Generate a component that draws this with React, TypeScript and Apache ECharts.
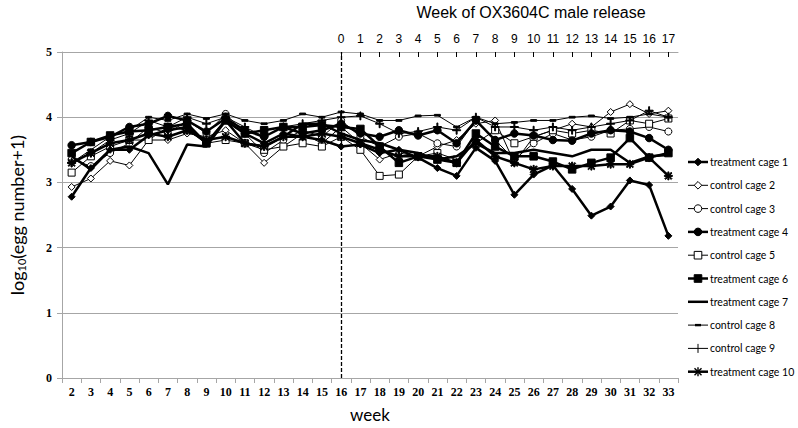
import React, { useEffect, useRef } from "react";
import * as echarts from "echarts";

const weeks = ["2","3","4","5","6","7","8","9","10","11","12","13","14","15","16","17","18","19","20","21","22","23","24","25","26","27","28","29","30","31","32","33"];
const releaseWeekLabels = ["","","","","","","","","","","","","","","0","1","2","3","4","5","6","7","8","9","10","11","12","13","14","15","16","17"];
const yTicks = [0, 1, 2, 3, 4, 5];

const treatmentCage1 = [2.78,3.22,3.5,3.5,3.72,3.8,3.85,3.6,3.95,3.75,3.6,3.75,3.7,3.65,3.55,3.58,3.45,3.5,3.38,3.22,3.1,3.53,3.33,2.81,3.12,3.26,2.9,2.49,2.63,3.03,2.96,2.18];
const controlCage2 = [2.93,3.06,3.33,3.26,3.65,3.65,3.75,3.7,3.8,3.6,3.3,3.55,3.75,3.6,3.85,3.6,3.35,3.45,3.4,3.55,3.65,3.9,3.95,3.3,3.7,3.8,3.9,3.85,4.08,4.2,4.05,4.1];
const controlCage3 = [3.35,3.25,3.45,3.6,3.85,3.75,3.95,3.75,4.05,3.75,3.45,3.65,3.8,3.7,3.95,3.7,3.55,3.7,3.75,3.6,3.55,3.95,3.65,3.35,3.6,3.75,3.65,3.7,3.8,3.82,3.85,3.78];
const treatmentCage4 = [3.57,3.62,3.7,3.85,3.9,4.02,3.95,3.78,3.98,3.8,3.7,3.85,3.75,3.8,3.9,3.75,3.7,3.8,3.72,3.8,3.6,3.95,3.65,3.75,3.72,3.65,3.64,3.75,3.8,3.78,3.68,3.5];
const controlCage5 = [3.15,3.4,3.55,3.65,3.65,3.85,3.8,3.6,3.65,3.6,3.5,3.55,3.6,3.55,3.7,3.5,3.1,3.12,3.4,3.45,3.35,3.6,3.8,3.6,3.7,3.8,3.75,3.8,3.75,3.95,3.9,3.98];
const treatmentCage6 = [3.45,3.62,3.72,3.78,3.8,3.85,3.9,3.6,3.95,3.75,3.8,3.85,3.85,3.88,3.85,3.82,3.55,3.3,3.4,3.35,3.3,3.75,3.55,3.4,3.4,3.32,3.2,3.3,3.38,3.68,3.38,3.45];
const treatmentCage7 = [3.4,3.2,3.5,3.55,3.45,2.97,3.58,3.55,3.95,3.6,3.55,3.7,3.9,3.9,3.75,3.65,3.6,3.5,3.45,3.35,3.4,3.6,3.45,3.45,3.5,3.45,3.4,3.5,3.5,3.3,3.4,3.42];
const controlCage8 = [3.3,3.5,3.7,3.8,4.0,3.95,4.05,3.98,4.05,3.95,3.9,3.95,4.05,4.0,4.08,4.05,3.95,3.95,4.02,4.03,3.85,4.0,3.9,3.92,3.95,3.95,4.0,4.02,3.98,4.0,4.05,4.0];
const controlCage9 = [3.3,3.45,3.65,3.75,3.95,3.85,4.0,3.9,4.0,3.85,3.7,3.85,3.9,3.95,4.0,4.02,3.9,3.75,3.78,3.85,3.8,4.0,3.85,3.85,3.8,3.85,3.8,3.85,3.9,3.95,4.1,4.0];
const treatmentCage10 = [3.3,3.45,3.6,3.65,3.75,3.7,3.8,3.65,3.7,3.6,3.55,3.7,3.7,3.75,3.7,3.6,3.5,3.4,3.4,3.4,3.3,3.65,3.4,3.3,3.2,3.25,3.25,3.25,3.28,3.28,3.38,3.1];

const PLUS = "path://M4.4,0H5.6V4.4H10V5.6H5.6V10H4.4V5.6H0V4.4H4.4Z";
const STAR = "path://M4.3,0H5.7V10H4.3Z M0.5,1.5L1.5,0.5L9.5,8.5L8.5,9.5Z M8.5,0.5L9.5,1.5L1.5,9.5L0.5,8.5Z M0,4.3H10V5.7H0Z";
const DASH = "path://M0,0H7V2H0Z";

type Kind = "diamond" | "circle" | "rect" | "none" | "dash" | "plus" | "star";
const symbolOf: Record<Kind, string> = { diamond: "diamond", circle: "circle", rect: "rect", none: "none", dash: DASH, plus: PLUS, star: STAR };

export default function App() {
  const ref = useRef<HTMLDivElement>(null);
  useEffect(() => {
    const chart = echarts.init(ref.current!, null, { renderer: "svg" });
    const defs: { name: string; data: number[]; kind: Kind; size: number; filled: boolean; width: number }[] = [
      { name: "treatment cage 1", data: treatmentCage1, kind: "diamond", size: 7, filled: true, width: 2.5 },
      { name: "control cage 2", data: controlCage2, kind: "diamond", size: 7, filled: false, width: 1 },
      { name: "control cage 3", data: controlCage3, kind: "circle", size: 7, filled: false, width: 1 },
      { name: "treatment cage 4", data: treatmentCage4, kind: "circle", size: 7.5, filled: true, width: 2.5 },
      { name: "control cage 5", data: controlCage5, kind: "rect", size: 7, filled: false, width: 1 },
      { name: "treatment cage 6", data: treatmentCage6, kind: "rect", size: 7.5, filled: true, width: 2.5 },
      { name: "treatment cage 7", data: treatmentCage7, kind: "none", size: 0, filled: true, width: 2.5 },
      { name: "control cage 8", data: controlCage8, kind: "dash", size: 6, filled: true, width: 1 },
      { name: "control cage 9", data: controlCage9, kind: "plus", size: 8, filled: true, width: 1 },
      { name: "treatment cage 10", data: treatmentCage10, kind: "star", size: 8, filled: true, width: 2.5 },
    ];
    const series: any[] = defs.map((d) => ({
      type: "line",
      name: d.name,
      data: d.data,
      symbol: symbolOf[d.kind],
      symbolSize: d.size,
      symbolKeepAspect: true,
      showSymbol: d.kind !== "none",
      lineStyle: { color: "#000", width: d.width },
      itemStyle: { color: d.filled ? "#000" : "#fff", borderColor: "#000", borderWidth: 1 },
      emphasis: { disabled: true },
      z: d.filled ? 3 : 2,
    }));
    series[0].markLine = {
      silent: true,
      symbol: ["none", "none"],
      label: { show: false },
      lineStyle: { type: [4, 2], color: "#000", width: 1.3 },
      data: [{ xAxis: "16" }],
    };

    // legend drawn as graphic elements
    const legendEls: any[] = [];
    defs.forEach((d, i) => {
      const cy = 162 + i * 23.3;
      const cx = 698;
      legendEls.push({ type: "line", shape: { x1: 688, y1: cy, x2: 708, y2: cy }, style: { stroke: "#000", lineWidth: d.width } });
      const fill = d.filled ? "#000" : "#fff";
      const r = 3.8;
      if (d.kind === "diamond") {
        legendEls.push({ type: "polygon", shape: { points: [[cx, cy - r], [cx + r, cy], [cx, cy + r], [cx - r, cy]] }, style: { fill, stroke: "#000", lineWidth: 1 } });
      } else if (d.kind === "circle") {
        legendEls.push({ type: "circle", shape: { cx, cy, r }, style: { fill, stroke: "#000", lineWidth: 1 } });
      } else if (d.kind === "rect") {
        legendEls.push({ type: "rect", shape: { x: cx - r, y: cy - r, width: 2 * r, height: 2 * r }, style: { fill, stroke: "#000", lineWidth: 1 } });
      } else if (d.kind === "dash") {
        legendEls.push({ type: "rect", shape: { x: cx - 3, y: cy - 1.2, width: 6, height: 2.4 }, style: { fill: "#000" } });
      } else if (d.kind === "plus") {
        legendEls.push({ type: "line", shape: { x1: cx, y1: cy - 4.5, x2: cx, y2: cy + 4.5 }, style: { stroke: "#000", lineWidth: 1 } });
      } else if (d.kind === "star") {
        legendEls.push({ type: "line", shape: { x1: cx, y1: cy - 4.5, x2: cx, y2: cy + 4.5 }, style: { stroke: "#000", lineWidth: 1.4 } });
        legendEls.push({ type: "line", shape: { x1: cx - 3.5, y1: cy - 3.5, x2: cx + 3.5, y2: cy + 3.5 }, style: { stroke: "#000", lineWidth: 1.4 } });
        legendEls.push({ type: "line", shape: { x1: cx + 3.5, y1: cy - 3.5, x2: cx - 3.5, y2: cy + 3.5 }, style: { stroke: "#000", lineWidth: 1.4 } });
      }
      legendEls.push({
        type: "text",
        x: 710,
        y: cy,
        style: { text: d.name, textVerticalAlign: "middle", textAlign: "left", font: "10.5px Lato", fill: "#000" },
      });
    });

    const option: any = {
      animation: false,
      grid: { left: 51, right: 120, top: 52, bottom: 50 },
      graphic: [
        {
          type: "text",
          x: 531,
          y: 12,
          style: {
            text: "Week of OX3604C male release",
            textAlign: "center",
            textVerticalAlign: "middle",
            font: "16px 'Liberation Sans', Arial, sans-serif",
            fill: "#000",
          },
        },
        ...legendEls,
      ],
      xAxis: [
        {
          type: "category",
          data: weeks,
          position: "bottom",
          boundaryGap: true,
          name: "week",
          nameLocation: "middle",
          nameGap: 28,
          nameTextStyle: { fontSize: 17, fontFamily: "Lato", color: "#000" },
          axisLine: { lineStyle: { color: "#a6a6a6", width: 1 } },
          axisTick: { show: true, length: 5, lineStyle: { color: "#a6a6a6" } },
          axisLabel: { color: "#000", fontWeight: "bold", fontFamily: "'Liberation Serif', serif", fontSize: 12, margin: 8, interval: 0 },
          splitLine: { show: false },
        },
        {
          type: "category",
          data: releaseWeekLabels,
          position: "top",
          boundaryGap: true,
          axisLine: { show: true, lineStyle: { color: "#a6a6a6" } },
          axisTick: {
            show: true,
            alignWithLabel: true,
            inside: true,
            length: 5,
            interval: (i: number) => releaseWeekLabels[i] !== "",
            lineStyle: { color: "#000" },
          },
          axisLabel: {
            color: "#000",
            fontFamily: "'Liberation Sans', Arial, sans-serif",
            fontSize: 12,
            margin: 7,
            interval: (i: number) => releaseWeekLabels[i] !== "",
          },
          splitLine: { show: false },
        },
      ],
      yAxis: {
        type: "value",
        min: yTicks[0],
        max: yTicks[yTicks.length - 1],
        interval: 1,
        name: "log{sub|10}(egg number+1)",
        nameLocation: "middle",
        nameRotate: 90,
        nameGap: 35,
        nameTextStyle: {
          fontSize: 18,
          fontFamily: "Lato",
          color: "#000",
          rich: { sub: { fontSize: 11, fontFamily: "Lato", color: "#000", verticalAlign: "bottom", padding: [9, 0, 0, 0] } },
        },
        axisLine: { show: true, lineStyle: { color: "#a6a6a6" } },
        axisTick: { show: true, length: 5, lineStyle: { color: "#a6a6a6" } },
        axisLabel: { color: "#000", fontWeight: "bold", fontFamily: "'Liberation Serif', serif", fontSize: 12, margin: 10 },
        splitLine: { show: true, lineStyle: { color: "#a6a6a6", width: 1 } },
      },
      series,
    };
    chart.setOption(option);
    return () => chart.dispose();
  }, []);
  return <div ref={ref} style={{ position: "absolute", left: 0, top: 0, width: 798, height: 428 }} />;
}
